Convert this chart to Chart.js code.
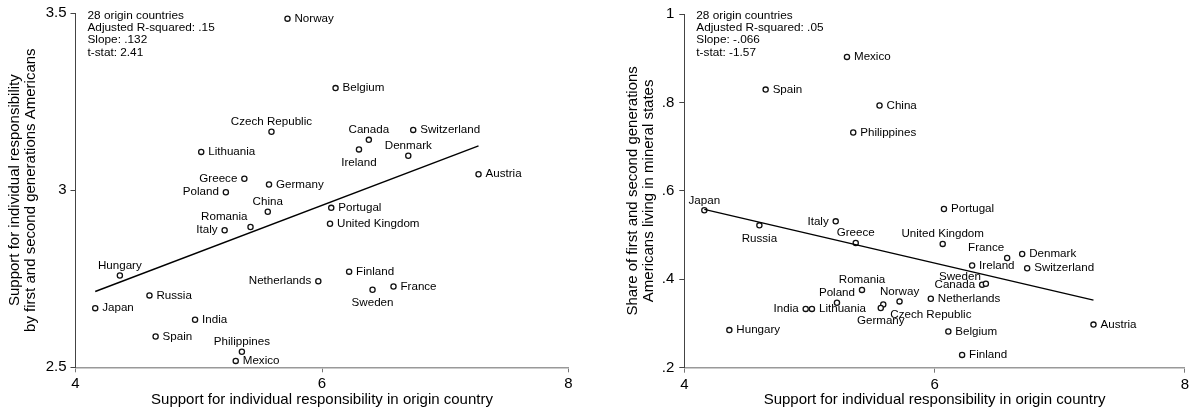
<!DOCTYPE html>
<html>
<head>
<meta charset="utf-8">
<script src="https://cdn.jsdelivr.net/npm/chart.js@4.4.1/dist/chart.umd.min.js"></script>
<style>
  html, body { margin: 0; padding: 0; background: #fff; }
  #wrap { position: relative; width: 1192px; height: 414px; }
  .panel { position: absolute; top: 0; width: 596px; height: 414px; }
</style>
</head>
<body>
<div id="wrap">
  <div class="panel" style="left:0"><canvas id="c1" width="596" height="414"></canvas></div>
  <div class="panel" style="left:596px"><canvas id="c2" width="596" height="414"></canvas></div>
</div>
<script>
// ---------- DATA ----------
const countries = ['Norway','Belgium','Czech Republic','Canada','Switzerland','Ireland','Denmark','Austria','Lithuania','Greece','Germany','Poland','China','Romania','Italy','Hungary','Russia','Japan','India','Spain','Philippines','Mexico','Portugal','United Kingdom','Netherlands','Finland','Sweden','France'];
const originSupport = [5.72,6.11,5.59,6.38,6.74,6.30,6.70,7.27,5.02,5.37,5.57,5.22,5.56,5.42,5.21,4.36,4.60,4.16,4.97,4.65,5.35,5.30,6.075,6.065,5.97,6.22,6.41,6.58];
const americanSupport = [3.484,3.288,3.165,3.142,3.170,3.115,3.097,3.045,3.108,3.032,3.016,2.994,2.939,2.896,2.887,2.759,2.703,2.667,2.634,2.587,2.544,2.518,2.950,2.905,2.743,2.770,2.719,2.728];
const mineralShare = [0.350,0.282,0.343,0.3875,0.425,0.431,0.457,0.2975,0.333,0.482,0.335,0.347,0.793,0.376,0.531,0.285,0.522,0.556,0.333,0.829,0.732,0.903,0.559,0.480,0.356,0.229,0.390,0.448];
const fitX = [4.16, 7.27];
const leftFitY = [2.714, 3.125];
const rightFitY = [0.558, 0.3527];
const leftStats = ['28 origin countries','Adjusted R-squared: .15','Slope: .132','t-stat: 2.41'];
const rightStats = ['28 origin countries','Adjusted R-squared: .05','Slope: -.066','t-stat: -1.57'];
const xTitle = 'Support for individual responsibility in origin country';
const leftYTitle = ['Support for individual responsibility','by first and second generations Americans'];
const rightYTitle = ['Share of first and second generations','Americans living in mineral states'];
const leftYTicks = [2.5, 3, 3.5];
const rightYTicks = [0.2, 0.4, 0.6, 0.8, 1];
const xTicks = [4, 6, 8];

// label clock positions (style)
const leftPos  = [3,3,12,12,3,6,12,3,3,9,3,9,12,11,9,12,3,3,3,3,12,3,3,3,9,3,6,3];
const rightPos = [12,3,4,9,3,3,3,3,3,12,6,12,3,12,9,3,6,12,9,3,3,3,3,12,3,3,10,11];

// ---------- HELPERS ----------
const FONT = '"Liberation Sans", Arial, sans-serif';
const TXT = '#000';

function labelPlugin(pos, stats) {
  return {
    id: 'lbl',
    afterDatasetsDraw(chart) {
      const ctx = chart.ctx;
      const meta = chart.getDatasetMeta(1);
      ctx.save();
      ctx.font = '11.6px ' + FONT;
      ctx.fillStyle = TXT;
      meta.data.forEach((el, i) => {
        const p = pos[i];
        let x = el.x, y = el.y, align = 'left';
        if (p === 3) { x += 7; }
        else if (p === 9) { x -= 7; align = 'right'; }
        else if (p === 12) { y -= 10; align = 'center'; }
        else if (p === 6) { y += 13; align = 'center'; }
        else if (p === 11) { x -= 3; y -= 10; align = 'right'; }
        else if (p === 10) { x -= 5; y -= 7; align = 'right'; }
        else if (p === 4) { x += 7; y += 10; }
        ctx.textAlign = align;
        ctx.textBaseline = 'middle';
        ctx.fillText(countries[i], x, y);
      });
      ctx.textAlign = 'left';
      ctx.textBaseline = 'middle';
      ctx.font = '11.8px ' + FONT;
      stats.forEach((s, i) => {
        ctx.fillText(s, chart.chartArea.left + 12, 15.7 + i * 12.2);
      });
      ctx.restore();
    }
  };
}

function fmtRight(v) {
  const r = Math.round(v * 10) / 10;
  if (r === 1) return '1';
  return String(r).replace(/^0\./, '.');
}

function makeChart(id, yVals, fitY, yMin, yMax, yStep, yTicksFmt, yTitle, pos, stats, geom) {
  const pts = originSupport.map((x, i) => ({ x: x, y: yVals[i] }));
  const fit = fitX.map((x, i) => ({ x: x, y: fitY[i] }));
  return new Chart(document.getElementById(id), {
    type: 'scatter',
    data: {
      datasets: [
        { type: 'line', data: fit, borderColor: '#000', borderWidth: 1.4, pointRadius: 0, fill: false, tension: 0 },
        { data: pts, pointRadius: 2.6, pointBorderWidth: 1.3, borderColor: '#111', backgroundColor: '#fff', pointHoverRadius: 2.6 }
      ]
    },
    options: {
      responsive: false,
      animation: false,
      devicePixelRatio: 1,
      layout: { padding: { left: 0, right: geom.padRight, top: geom.padTop, bottom: 0 }, autoPadding: false },
      plugins: { legend: { display: false }, tooltip: { enabled: false } },
      scales: {
        x: {
          type: 'linear', min: 4, max: 8,
          afterBuildTicks: s => { s.ticks = xTicks.map(v => ({ value: v })); },
          ticks: { font: { size: 15, family: FONT }, color: TXT, padding: 3, maxRotation: 0 },
          grid: { drawOnChartArea: false, drawTicks: true, tickLength: 5, color: '#999', tickColor: '#777' },
          border: { display: true, color: '#999', width: 1.6 },
          title: { display: true, text: xTitle, color: TXT, font: { size: 15, family: FONT, lineHeight: 1.07 }, padding: { top: 0, bottom: 6 } },
          afterFit: s => { s.height = geom.xHeight; }
        },
        y: {
          type: 'linear', min: yMin, max: yMax,
          afterBuildTicks: s => { s.ticks = geom.yTicks.map(v => ({ value: v })); },
          ticks: { font: { size: 15, family: FONT }, color: TXT, padding: geom.yPad, callback: yTicksFmt },
          grid: { drawOnChartArea: false, drawTicks: true, tickLength: 5, color: '#444', tickColor: '#444' },
          border: { display: true, color: '#444', width: 1 },
          title: { display: true, text: yTitle, color: TXT, font: { size: 15, family: FONT, lineHeight: 1.07 }, padding: { top: geom.titleTop, bottom: 0 } },
          afterFit: s => { s.width = geom.yWidth; }
        }
      }
    },
    plugins: [labelPlugin(pos, stats)]
  });
}

makeChart('c1', americanSupport, leftFitY, 2.5, 3.5, 0.5, v => String(v), leftYTitle, leftPos, leftStats,
  { padRight: 27.5, padTop: 10.3, xHeight: 46.7, yWidth: 75.5, yPad: 4, titleTop: 7, yTicks: leftYTicks });
makeChart('c2', mineralShare, rightFitY, 0.2, 1, 0.2, fmtRight, rightYTitle, rightPos, rightStats,
  { padRight: 7, padTop: 9.3, xHeight: 46.3, yWidth: 88.3, yPad: 5, titleTop: 29, yTicks: rightYTicks });
</script>
</body>
</html>
